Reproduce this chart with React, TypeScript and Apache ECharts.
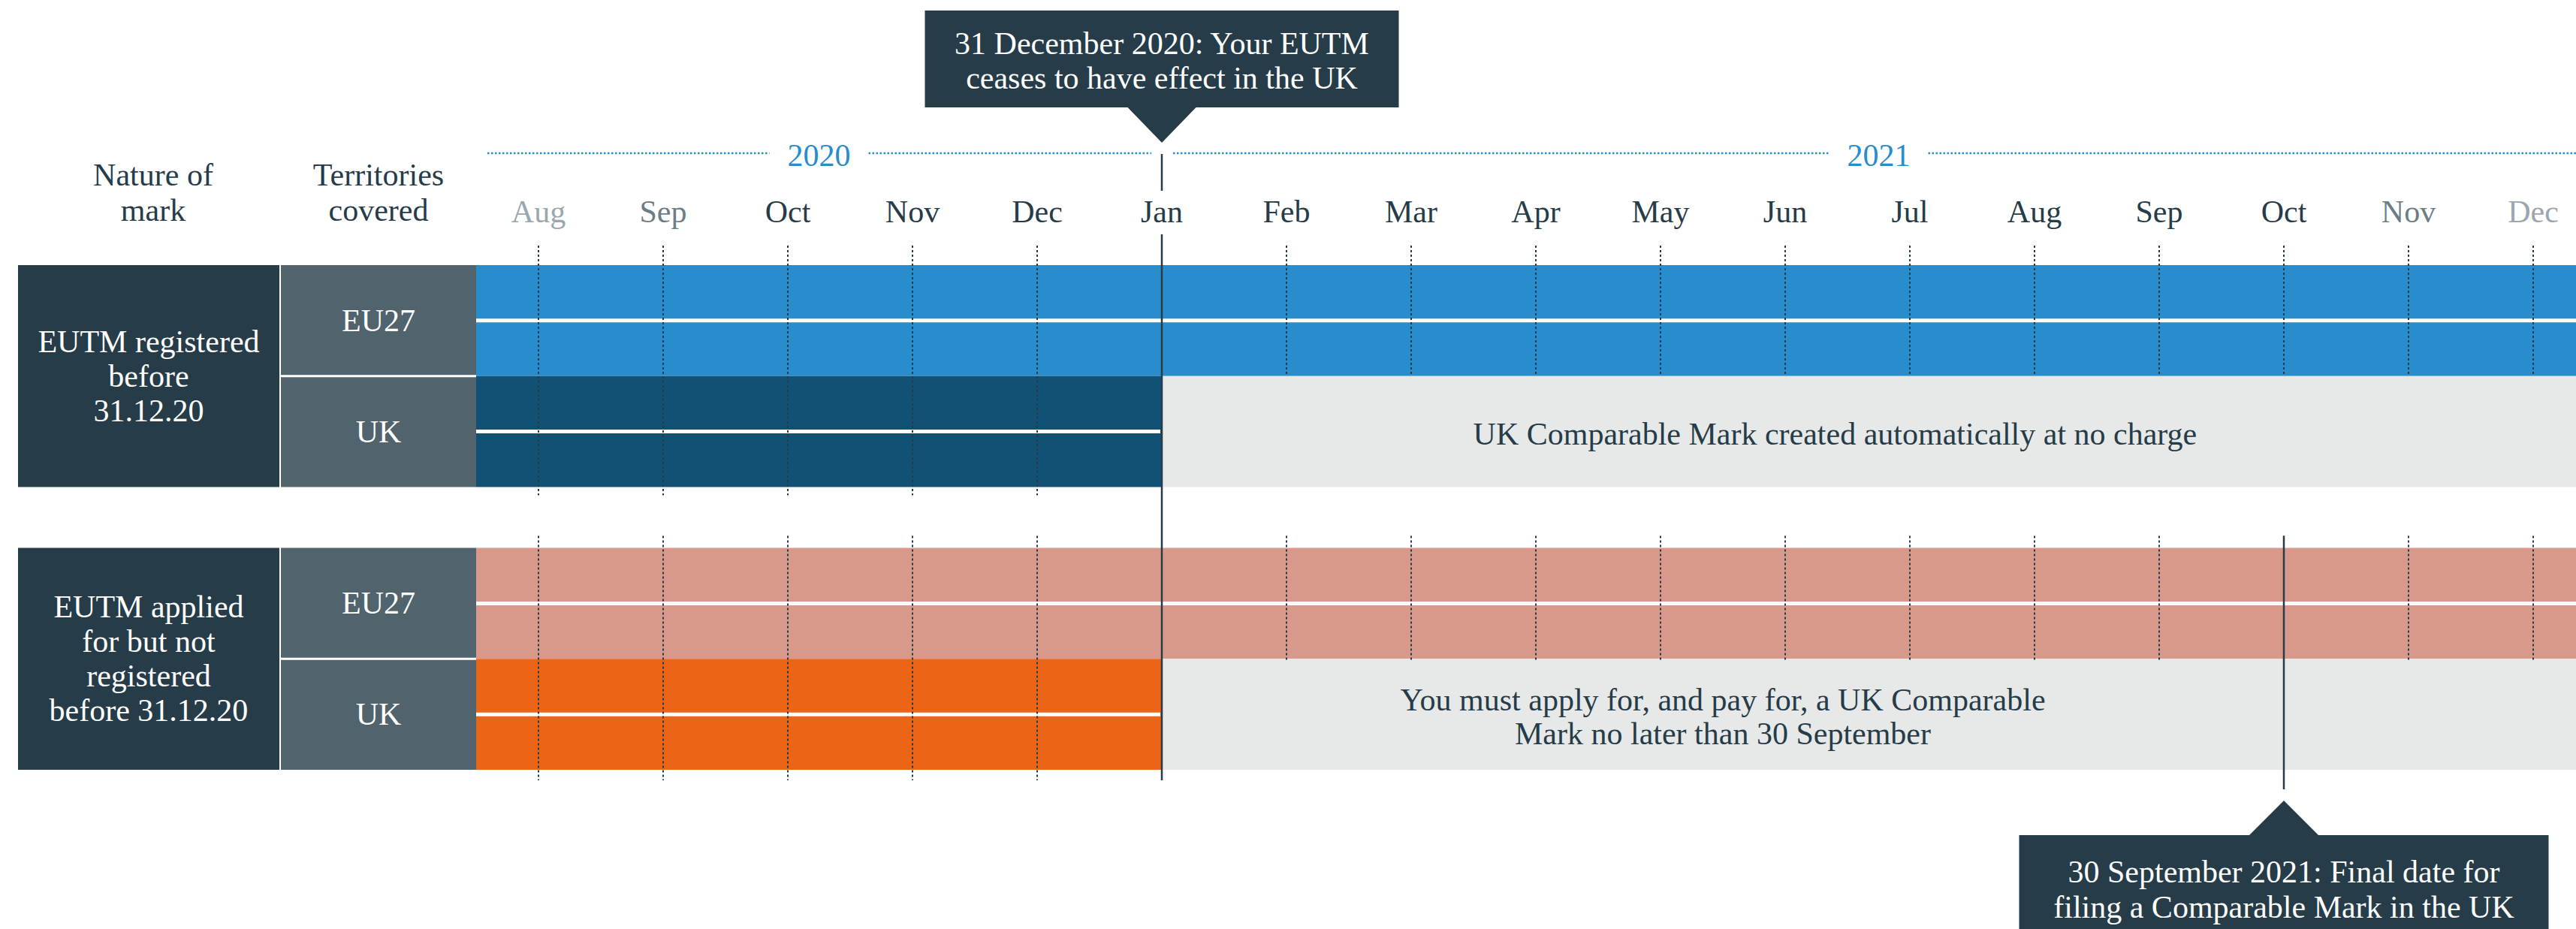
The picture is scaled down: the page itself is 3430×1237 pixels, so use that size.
import React, { useEffect, useRef } from "react";
import * as echarts from "echarts";

const FONT = "'Liberation Serif', 'Times New Roman', serif";
const INK = "#263c49";
const SLATE = "#51636d";
const BLUE = "#288ccd";

// ---- axis data ----
const MONTHS = ["Aug", "Sep", "Oct", "Nov", "Dec", "Jan", "Feb", "Mar", "Apr", "May", "Jun", "Jul", "Aug", "Sep", "Oct", "Nov", "Dec"];
const MONTH_COLORS = ["#9aa7ae", "#6b7d87", INK, INK, INK, INK, INK, INK, INK, INK, INK, INK, INK, INK, INK, "#6b7d87", "#9aa7ae"];
const X_MIN = -0.5;
const X_MAX = 16.5;

const YEARS = ["2020", "2021"];
const YEAR_FROM = [-0.5, 5];
const YEAR_TO = [5, 16.5];

// ---- rows ----
const HEADERS = ["Nature of\nmark", "Territories\ncovered"];
const ROW_TOP = [0, 1, 2.55, 3.55];
const ROW_LABELS = ["EU27", "UK", "EU27", "UK"];
const GROUP_LABELS = ["EUTM registered\nbefore\n31.12.20", "EUTM applied\nfor but not\nregistered\nbefore 31.12.20"];
const GROUP_FIRST_ROW = [0, 2];
const Y_MAX = 4.55;

// ---- bars (month index; Aug 2020 = 0, Jan 2021 = 5) ----
const BAR_ROW = [0, 1, 1, 2, 3, 3];
const BAR_FROM = [-0.5, -0.5, 5, -0.5, -0.5, 5];
const BAR_TO = [16.5, 5, 16.5, 16.5, 5, 16.5];
const BAR_COLORS = ["#288ccd", "#115274", "#e7e9e8", "#d8998a", "#ec6517", "#e7e9e8"];
const BAR_SPLIT = [true, true, false, true, true, false];

// ---- notes inside grey bars ----
const NOTE_ROW = [1, 3];
const NOTE_FROM = [5, 5];
const NOTE_TO = [15.8, 14];
const NOTES = [
  "UK Comparable Mark created automatically at no charge",
  "You must apply for, and pay for, a UK Comparable\nMark no later than 30 September",
];

// ---- key dates ----
const EVENT_X = [5, 14];
const EVENT_TEXT = [
  "31 December 2020: Your EUTM\nceases to have effect in the UK",
  "30 September 2021: Final date for\nfiling a Comparable Mark in the UK",
];
const EVENT_SIDE = ["top", "bottom"];
const EVENT_BOX_W = [631, 705];

const CUTOFF = EVENT_X[0];

function txt(text: string, x: number, y: number, fill: string, lineHeight = 46, fontSize = 42) {
  return {
    type: "text",
    style: { text, x, y, fill, align: "center", verticalAlign: "middle", fontSize, fontFamily: FONT, lineHeight },
  };
}

function buildOption() {
  const renderBars = (params: any, api: any) => {
    const p0 = api.coord([api.value(0), api.value(2)]);
    const p1 = api.coord([api.value(1), api.value(3)]);
    const i = params.dataIndex;
    const children: any[] = [
      { type: "rect", shape: { x: p0[0], y: p0[1], width: p1[0] - p0[0], height: p1[1] - p0[1] }, style: { fill: BAR_COLORS[i] } },
    ];
    if (BAR_SPLIT[i]) {
      const my = (p0[1] + p1[1]) / 2;
      children.push({ type: "rect", shape: { x: p0[0], y: my - 2.5, width: p1[0] - p0[0] - 2, height: 5 }, style: { fill: "#ffffff" } });
    }
    return { type: "group", children };
  };

  const renderMonthLines = (params: any, api: any) => {
    const x = api.value(0);
    const px = api.coord([x, 0])[0];
    const y = (v: number) => api.coord([x, v])[1];
    const before = x < CUTOFF;
    const segs = [
      [y(ROW_TOP[0]) - 26, before ? y(ROW_TOP[1] + 1) + 11 : y(ROW_TOP[0] + 1)],
      [y(ROW_TOP[2]) - 16, before ? y(ROW_TOP[3] + 1) + 14 : y(ROW_TOP[2] + 1) + 3],
    ];
    return {
      type: "group",
      children: segs.map((s) => ({
        type: "line",
        shape: { x1: px, y1: s[0], x2: px, y2: s[1] },
        style: { stroke: INK, lineWidth: 2, lineDash: [3, 3] },
      })),
    };
  };

  const renderYears = (params: any, api: any) => {
    const i = params.dataIndex;
    const a = api.coord([api.value(0), 0]);
    const b = api.coord([api.value(1), 0]);
    const yLine = a[1] - 149;
    const c = (a[0] + b[0]) / 2;
    const half = 66;
    const line = (x1: number, x2: number) => ({
      type: "line",
      shape: { x1, y1: yLine, x2, y2: yLine },
      style: { stroke: BLUE, lineWidth: 2.5, lineDash: [2.5, 2.5] },
    });
    return {
      type: "group",
      children: [line(a[0] + 15, c - half), line(c + half, b[0] - 14), txt(YEARS[i], c, yLine + 3, BLUE)],
    };
  };

  const renderNotes = (params: any, api: any) => {
    const i = params.dataIndex;
    const a = api.coord([api.value(0), api.value(2)]);
    const b = api.coord([api.value(1), api.value(2) + 1]);
    return txt(NOTES[i], (a[0] + b[0]) / 2, (a[1] + b[1]) / 2 + 3, INK, 45);
  };

  const renderTable = (params: any, api: any) => {
    const g = params.dataIndex;
    const top = api.coord([X_MIN, api.value(1)])[1];
    const bottom = api.coord([X_MIN, api.value(2)])[1];
    const right = api.coord([X_MIN, 0])[0];
    const first = GROUP_FIRST_ROW[g];
    const children: any[] = [
      { type: "rect", shape: { x: 24, y: top, width: 348, height: bottom - top }, style: { fill: INK } },
      txt(GROUP_LABELS[g], 198, (top + bottom) / 2, "#ffffff"),
    ];
    for (let r = first; r < first + 2; r++) {
      const t = api.coord([X_MIN, ROW_TOP[r]])[1];
      const bt = api.coord([X_MIN, ROW_TOP[r] + 1])[1];
      const t0 = r === first ? t : t + 1.5;
      const b0 = r === first ? bt - 1.5 : bt;
      children.push({ type: "rect", shape: { x: 374, y: t0, width: right - 374, height: b0 - t0 }, style: { fill: SLATE } });
      children.push(txt(ROW_LABELS[r], (374 + right) / 2, (t + bt) / 2, "#ffffff"));
    }
    if (g === 0) {
      children.push(txt(HEADERS[0], 204, top - 97, INK, 47));
      children.push(txt(HEADERS[1], 504, top - 97, INK, 47));
    }
    return { type: "group", children };
  };

  const renderEvents = (params: any, api: any) => {
    const i = params.dataIndex;
    const x = api.value(0);
    const px = api.coord([x, 0])[0];
    const gridTop = api.coord([x, 0])[1];
    const gridBottom = api.coord([x, Y_MAX])[1];
    const w = EVENT_BOX_W[i];
    const children: any[] = [];
    const stroke = { stroke: INK, lineWidth: 2.5 };
    if (EVENT_SIDE[i] === "top") {
      children.push({ type: "line", shape: { x1: px, y1: gridTop - 148, x2: px, y2: gridTop - 99 }, style: stroke });
      children.push({ type: "line", shape: { x1: px, y1: gridTop - 41, x2: px, y2: gridBottom + 14 }, style: stroke });
      const boxBottom = gridTop - 210;
      const boxTop = boxBottom - 129;
      children.push({ type: "rect", shape: { x: px - w / 2, y: boxTop, width: w, height: 129 }, style: { fill: INK } });
      children.push({
        type: "polygon",
        shape: { points: [[px - 46.5, boxBottom - 1], [px + 46.5, boxBottom - 1], [px, boxBottom + 47]] },
        style: { fill: INK },
      });
      children.push(txt(EVENT_TEXT[i], px, boxTop + 67, "#ffffff", 46));
    } else {
      const t = api.coord([x, ROW_TOP[2]])[1];
      children.push({ type: "line", shape: { x1: px, y1: t - 16, x2: px, y2: gridBottom + 26 }, style: stroke });
      const tip = gridBottom + 41;
      const boxTop = gridBottom + 87;
      children.push({
        type: "polygon",
        shape: { points: [[px, tip], [px + 47, boxTop + 1], [px - 47, boxTop + 1]] },
        style: { fill: INK },
      });
      children.push({ type: "rect", shape: { x: px - w / 2, y: boxTop, width: w, height: 140 }, style: { fill: INK } });
      children.push(txt(EVENT_TEXT[i], px, boxTop + 72, "#ffffff", 47));
    }
    return { type: "group", children };
  };

  const common = { type: "custom", xAxisIndex: 1, yAxisIndex: 0, clip: false, silent: true };

  return {
    animation: false,
    backgroundColor: "#ffffff",
    grid: { left: 634, top: 353, width: 2822, height: 672, containLabel: false, outerBoundsMode: "none" },
    xAxis: [
      {
        type: "category",
        position: "top",
        data: MONTHS.map((m, i) => ({ value: m, textStyle: { color: MONTH_COLORS[i] } })),
        axisLine: { show: false },
        axisTick: { show: false },
        splitLine: { show: false },
        axisLabel: { interval: 0, margin: 50, fontSize: 42, fontFamily: FONT, color: INK, hideOverlap: false },
      },
      { type: "value", min: X_MIN, max: X_MAX, show: false },
    ],
    yAxis: { type: "value", min: 0, max: Y_MAX, inverse: true, show: false },
    series: [
      {
        ...common,
        z: 1,
        data: BAR_ROW.map((r, i) => [BAR_FROM[i], BAR_TO[i], ROW_TOP[r], ROW_TOP[r] + 1]),
        renderItem: renderBars,
      },
      {
        ...common,
        z: 2,
        data: MONTHS.map((_, i) => [i, 0]).filter((d) => d[0] !== CUTOFF),
        renderItem: renderMonthLines,
      },
      {
        ...common,
        z: 3,
        data: YEARS.map((_, i) => [YEAR_FROM[i], YEAR_TO[i]]),
        renderItem: renderYears,
      },
      {
        ...common,
        z: 3,
        data: NOTES.map((_, i) => [NOTE_FROM[i], NOTE_TO[i], ROW_TOP[NOTE_ROW[i]]]),
        renderItem: renderNotes,
      },
      {
        ...common,
        z: 4,
        data: GROUP_LABELS.map((_, g) => [X_MIN, ROW_TOP[GROUP_FIRST_ROW[g]], ROW_TOP[GROUP_FIRST_ROW[g] + 1] + 1]),
        renderItem: renderTable,
      },
      {
        ...common,
        z: 5,
        data: EVENT_X.map((x, i) => [x, i]),
        renderItem: renderEvents,
      },
    ],
  };
}

export default function App() {
  const ref = useRef<HTMLDivElement>(null);
  useEffect(() => {
    const chart = echarts.init(ref.current!, null, { renderer: "svg" });
    chart.setOption(buildOption() as any);
    return () => chart.dispose();
  }, []);
  return (
    <div
      ref={ref}
      style={{ position: "fixed", left: 0, top: 0, width: 3430, height: 1237, background: "#ffffff" }}
    />
  );
}
